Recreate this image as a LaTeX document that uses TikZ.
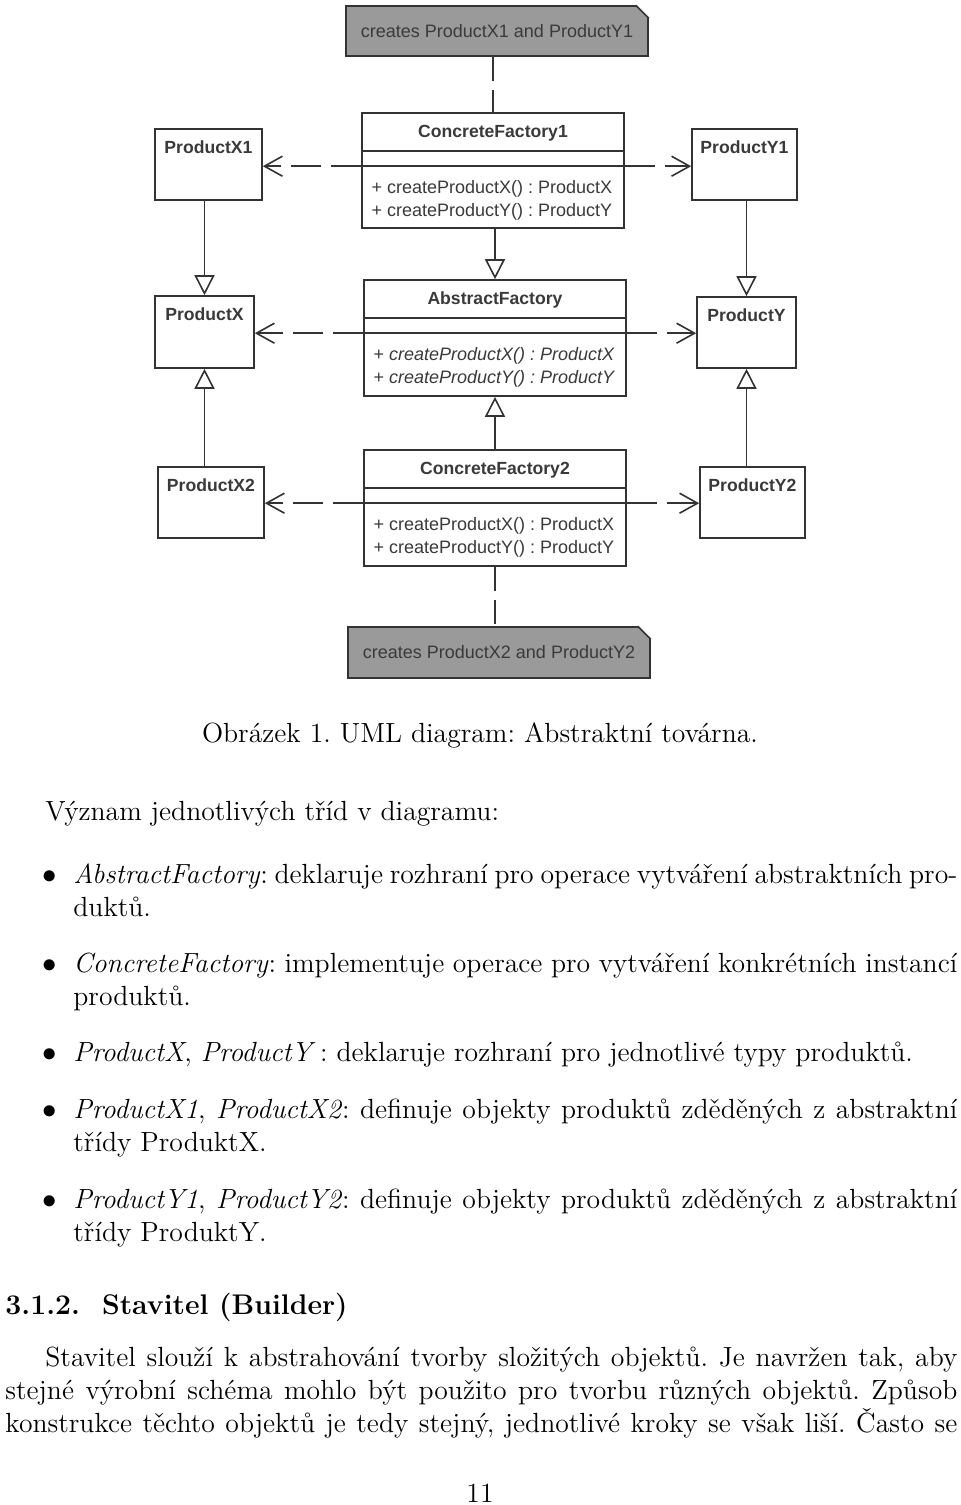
\documentclass[tikz,border=0pt]{standalone}
\usepackage{fontspec}
\newfontfamily\umlfont{Liberation Sans}
\usepackage{xcolor}
\usetikzlibrary{arrows.meta,positioning,calc}

\definecolor{umlline}{HTML}{333333}
\definecolor{umltext}{HTML}{3A3A3A}
\definecolor{notegray}{HTML}{9A9A9A}

\tikzset{
  klass/.style={draw=umlline, line width=0.8pt, fill=white, inner sep=0pt},
  clname/.style={font=\umlfont\bfseries\fontsize{8.8}{10}\selectfont, text=umltext, anchor=base, inner sep=0pt},
  method/.style={font=\umlfont\fontsize{9}{11}\selectfont, text=umltext, anchor=base west, inner sep=0pt},
  notebox/.style={draw=umlline, line width=0.8pt, fill=notegray, minimum width=151pt, minimum height=25pt, inner sep=0pt, font=\umlfont\fontsize{9}{11}\selectfont, text=umltext},
  sepline/.style={draw=umlline, line width=0.8pt},
  dep/.style={draw=umlline, line width=0.8pt, dash pattern=on 15pt off 5pt, -{Straight Barb[length=9pt,width=10pt]}},
  gen/.style={draw=umlline, line width=0.8pt, -{Triangle[open,length=10pt,width=10pt,fill=white]}},
  noteline/.style={draw=umlline, line width=0.8pt, dash pattern=on 12pt off 4.5pt},
  body/.style={font=\fontsize{13.85}{16.5}\selectfont, inner sep=0pt, anchor=base west},
  item/.style={body, text width=442pt, align=justify},
}

\begin{document}
\frenchspacing
\begin{tikzpicture}[x=0.5pt, y=-0.5pt]
    \useasboundingbox (0,0) rectangle (960,1505);
    \fill[white] (0,0) rectangle (960,1505);

    % Notes
    \node[notebox] (note1) at (497,31) {creates ProductX1 and ProductY1};
    \node[notebox, minimum height=25.5pt] (note2) at (499,652.5) {creates ProductX2 and ProductY2};
    \foreach \n in {note1,note2} {
        \fill[white] ([xshift=-6.5pt,yshift=0.5pt]\n.north east) -- ([xshift=1pt,yshift=1pt]\n.north east)
            -- ([xshift=0.5pt,yshift=-6.5pt]\n.north east) -- cycle;
        \draw[sepline] ([xshift=-6.5pt]\n.north east) -- ([yshift=-6.5pt]\n.north east);
    }

    % Factories
    \node[klass, minimum width=131pt, minimum height=57.5pt] (cf1) at (493,170.5) {};
    \node[klass, minimum width=131pt, minimum height=58pt] (af) at (495,338) {};
    \node[klass, minimum width=131pt, minimum height=58pt] (cf2) at (495,508) {};
    \node[clname] (cf1name) at ([yshift=-12.75pt]cf1.north) {ConcreteFactory1};
    \node[clname] (afname) at ([yshift=-12.75pt]af.north) {AbstractFactory};
    \node[clname] (cf2name) at ([yshift=-12.75pt]cf2.north) {ConcreteFactory2};
    \foreach \f in {cf1,af,cf2} {
        \draw[sepline] ([yshift=-19.5pt]\f.north west) -- ([yshift=-19.5pt]\f.north east);
        \coordinate (\f sep) at ([yshift=-27pt]\f.north west);
        \draw[sepline] (\f sep) -- (\f sep -| \f.east);
    }
    \node[method] (cf1m1) at ([xshift=5pt,yshift=-40.75pt]cf1.north west) {+ createProductX() : ProductX};
    \node[method] (cf1m2) at ([xshift=5pt,yshift=-52.25pt]cf1.north west) {+ createProductY() : ProductY};
    \node[method] (afm1) at ([xshift=5pt,yshift=-40.75pt]af.north west) {+ \textit{createProductX() : ProductX}};
    \node[method] (afm2) at ([xshift=5pt,yshift=-52.25pt]af.north west) {+ \textit{createProductY() : ProductY}};
    \node[method] (cf2m1) at ([xshift=5pt,yshift=-40.75pt]cf2.north west) {+ createProductX() : ProductX};
    \node[method] (cf2m2) at ([xshift=5pt,yshift=-52.25pt]cf2.north west) {+ createProductY() : ProductY};

    % Products
    \node[klass, minimum width=53.5pt, minimum height=35.5pt] (px1) at (208.5,164.5) {};
    \node[klass, minimum width=52.5pt, minimum height=35.5pt] (py1) at (744.5,164.5) {};
    \node[klass, minimum width=49.5pt, minimum height=36pt] (px) at (204.5,332) {};
    \node[klass, minimum width=49.5pt, minimum height=35.5pt] (py) at (746.5,332.5) {};
    \node[klass, minimum width=53pt, minimum height=35.5pt] (px2) at (211,502.5) {};
    \node[klass, minimum width=52.5pt, minimum height=35.5pt] (py2) at (752.5,502.5) {};
    \foreach \p/\t in {px1/ProductX1,py1/ProductY1,px/ProductX,py/ProductY,px2/ProductX2,py2/ProductY2}
        \node[clname] (\p name) at ([yshift=-12.5pt]\p.north) {\t};

    % Dependencies
    \foreach \f/\l/\r in {cf1/px1/py1,af/px/py,cf2/px2/py2} {
        \draw[dep] (\f sep) -- (\f sep -| \l.east);
        \draw[dep] (\f sep -| \f.east) -- (\f sep -| \r.west);
    }

    % Generalizations
    \draw[gen] (px.north |- px1.south) -- (px.north);
    \draw[gen] (py.north |- py1.south) -- (py.north);
    \draw[gen] (cf1.south -| af.north) -- (af.north);
    \draw[gen] (px.south |- px2.north) -- (px.south);
    \draw[gen] (py.south |- py2.north) -- (py.south);
    \draw[gen] (af.south |- cf2.north) -- (af.south);

    % Note anchors
    \draw[noteline] (note1.south -| cf1.north) -- (cf1.north);
    \draw[noteline] (cf2.south) -- (cf2.south |- note2.north);

    % Text of the page
    \node[body, anchor=base] (caption) at (480,742) {Obrázek 1. UML diagram: Abstraktní továrna.};
    \node[body] (intro) at (45,820) {Význam jednotlivých tříd v diagramu:};
    \foreach \y in {883,972,1061,1118,1208}
        \node[body, anchor=base] (bullet\y) at (50,\y) {$\bullet$};
    \node[item] (item1) at (73,883) {\textit{AbstractFactory}: deklaruje rozhraní pro operace vytváření abstraktních pro-\linebreak duktů.};
    \node[item] (item2) at (73,972) {\textit{ConcreteFactory}: implementuje operace pro vytváření konkrétních instancí\linebreak produktů.};
    \node[body] (item3) at (73,1061) {\textit{ProductX}, \textit{ProductY}\,: deklaruje rozhraní pro jednotlivé typy produktů.};
    \node[item] (item4) at (73,1118) {\textit{ProductX1}, \textit{ProductX2}: definuje objekty produktů zděděných z abstraktní\linebreak třídy ProduktX.};
    \node[item] (item5) at (73,1208) {\textit{ProductY1}, \textit{ProductY2}: definuje objekty produktů zděděných z abstraktní\linebreak třídy ProduktY.};
    \node[body, font=\fontsize{14.2}{16.5}\selectfont] (heading) at (5,1314) {\bfseries 3.1.2.\hspace{11pt}Stavitel (Builder)};
    \node[body, text width=476pt, align=justify] (para) at (5,1366) {\parfillskip=0pt\hspace*{20pt}Stavitel slouží k abstrahování tvorby složitých objektů. Je navržen tak, aby\linebreak stejné výrobní schéma mohlo být použito pro tvorbu různých objektů. Způsob\linebreak konstrukce těchto objektů je tedy stejný, jednotlivé kroky se však liší. Často se\par};
    \node[body, anchor=base] (pagenum) at (480,1502) {11};
\end{tikzpicture}
\end{document}
